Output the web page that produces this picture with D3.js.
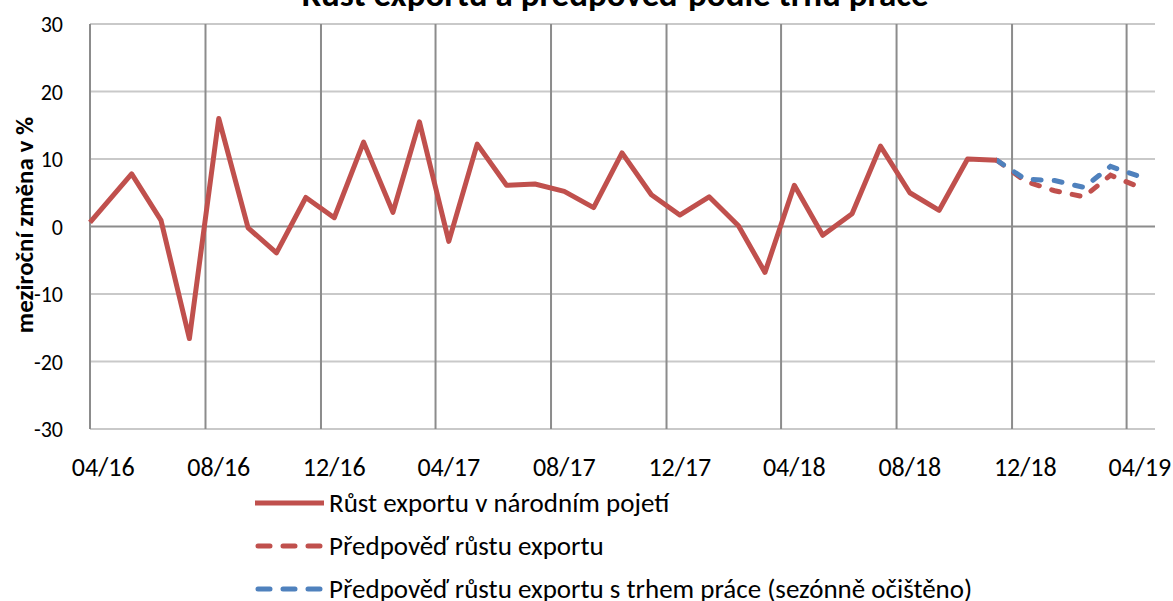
<!DOCTYPE html>
<html>
<head>
<meta charset="utf-8">
<script src="https://cdn.jsdelivr.net/npm/d3@7"></script>
<style>
body { margin: 0; background: #fff; }
text { font-family: Carlito, Calibri, Lato, sans-serif; fill: #000; }
</style>
</head>
<body>
<div id="chart"></div>
<script>
var w = 1173;
var h = 601;

// data
var actualDates = ["2016-04-01","2016-05-15","2016-06-15","2016-07-15","2016-08-15","2016-09-15","2016-10-15","2016-11-15",
  "2016-12-15","2017-01-15","2017-02-15","2017-03-15","2017-04-15","2017-05-15","2017-06-15","2017-07-15",
  "2017-08-15","2017-09-15","2017-10-15","2017-11-15","2017-12-15","2018-01-15","2018-02-15","2018-03-15",
  "2018-04-15","2018-05-15","2018-06-15","2018-07-15","2018-08-15","2018-09-15","2018-10-15","2018-11-15"];
var actualValues = [0.6, 7.8, 0.9, -16.6, 16.0, -0.2, -3.9, 4.3, 1.3, 12.5, 2.1, 15.5, -2.2, 12.2, 6.1, 6.3,
  5.2, 2.8, 10.9, 4.7, 1.7, 4.4, 0.1, -6.8, 6.1, -1.3, 1.9, 11.9, 5.0, 2.4, 10.0, 9.8];

var forecastDates = ["2018-11-15","2018-12-15","2019-01-15","2019-02-15","2019-03-15","2019-04-15"];
var forecastValues = [9.8, 6.7, 5.3, 4.4, 7.6, 5.8];
var laborValues = [9.8, 7.0, 6.8, 5.8, 8.9, 7.4];

var yTicks = [30, 20, 10, 0, -10, -20, -30];
var legendNames = ["Růst exportu v národním pojetí", "Předpověď růstu exportu",
  "Předpověď růstu exportu s trhem práce (sezónně očištěno)"];
var title = "Růst exportu a předpověď podle trhu práce";
var yTitle = "meziroční změna v %";

var red = "#C0504D";
var blue = "#4F81BD";

var parse = d3.timeParse("%Y-%m-%d");
var fmt = d3.timeFormat("%m/%y");

var svg = d3.select("#chart")
  .append("svg")
  .attr("width", w)
  .attr("height", h);

var pLeft = 90, pRight = 1155, pTop = 24, pBottom = 429;

var x = d3.scaleTime()
  .domain([parse("2016-04-01"), parse("2019-05-01")])
  .range([pLeft, pRight]);
var y = d3.scaleLinear()
  .domain([-30, 30])
  .range([pBottom, pTop]);

var xTicks = d3.timeMonth.range(parse("2016-04-01"), parse("2019-04-02"), 4);

// horizontal grid
svg.selectAll(".hgrid")
  .data(yTicks)
  .enter()
  .append("line")
  .attr("x1", pLeft)
  .attr("x2", pRight)
  .attr("y1", function(d){ return y(d); })
  .attr("y2", function(d){ return y(d); })
  .style("stroke", function(d){ return d === 0 ? "#8c8c8c" : "#c9c9c9"; })
  .style("stroke-width", 2);

// vertical grid
svg.selectAll(".vgrid")
  .data(xTicks)
  .enter()
  .append("line")
  .attr("x1", function(d){ return x(d); })
  .attr("x2", function(d){ return x(d); })
  .attr("y1", pTop)
  .attr("y2", pBottom)
  .style("stroke", "#8c8c8c")
  .style("stroke-width", 2);

// y labels
svg.selectAll(".ylab")
  .data(yTicks)
  .enter()
  .append("text")
  .text(function(d){ return d; })
  .attr("x", 63)
  .attr("y", function(d){ return y(d) + 8; })
  .attr("text-anchor", "end")
  .style("font-size", "22px");

// x labels, centred on the month slot
svg.selectAll(".xlab")
  .data(xTicks)
  .enter()
  .append("text")
  .text(function(d){ return fmt(d); })
  .attr("x", function(d){ return x(d3.timeDay.offset(d, 14)); })
  .attr("y", 476)
  .attr("text-anchor", "middle")
  .style("font-size", "26px");

svg.append("text")
  .text(yTitle)
  .attr("transform", "translate(33,225) rotate(-90)")
  .attr("text-anchor", "middle")
  .style("font-size", "25px")
  .style("font-weight", "bold");

svg.append("text")
  .text(title)
  .attr("x", 615)
  .attr("y", 6)
  .attr("text-anchor", "middle")
  .style("font-size", "35px")
  .style("font-weight", "bold");

function series(dates, values){
  return dates.map(function(d, i){ return { date: parse(d), value: values[i] }; });
}

var line = d3.line()
  .x(function(d){ return x(d.date); })
  .y(function(d){ return y(d.value); });

svg.append("path")
  .datum(series(forecastDates, forecastValues))
  .attr("d", line)
  .style("fill", "none")
  .style("stroke", red)
  .style("stroke-width", 5)
  .style("stroke-linecap", "round")
  .style("stroke-dasharray", "8,13");

svg.append("path")
  .datum(series(forecastDates, laborValues))
  .attr("d", line)
  .style("fill", "none")
  .style("stroke", blue)
  .style("stroke-width", 5)
  .style("stroke-linecap", "round")
  .style("stroke-dasharray", "8,13");

svg.append("path")
  .datum(series(actualDates, actualValues))
  .attr("d", line)
  .style("fill", "none")
  .style("stroke", red)
  .style("stroke-width", 5)
  .style("stroke-linejoin", "round");

// legend
var legendColors = [red, red, blue];
var legendDash = [null, "12,13", "12,13"];
var rows = svg.selectAll(".legend")
  .data(legendNames)
  .enter()
  .append("g")
  .attr("transform", function(d, i){ return "translate(0," + (503 + i * 43) + ")"; });

rows.append("line")
  .attr("x1", function(d, i){ return i === 0 ? 255 : 258; })
  .attr("x2", function(d, i){ return i === 0 ? 324 : 320; })
  .attr("y1", 0)
  .attr("y2", 0)
  .style("stroke", function(d, i){ return legendColors[i]; })
  .style("stroke-width", 5)
  .style("stroke-linecap", function(d, i){ return i === 0 ? "butt" : "round"; })
  .style("stroke-dasharray", function(d, i){ return legendDash[i]; });

rows.append("text")
  .text(function(d){ return d; })
  .attr("x", 329)
  .attr("y", 9)
  .style("font-size", "27px");
</script>
</body>
</html>
